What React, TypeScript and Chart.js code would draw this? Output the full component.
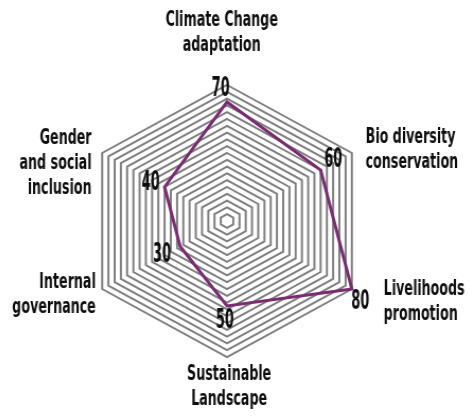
import React, { useEffect, useRef } from "react";
import { Chart, registerables } from "chart.js";

Chart.register(...registerables);

// ---- data ----
const categories: string[][] = [
  ["Climate Change", "adaptation"],
  ["Bio diversity", "conservation"],
  ["Livelihoods", "promotion"],
  ["Sustainable", "Landscape"],
  ["Internal", "governance"],
  ["Gender", "and social", "inclusion"],
];
const values: number[] = [70, 60, 80, 50, 30, 40];
const scaleMin = 0;
const scaleMax = 80;
const scaleStep = 4;

// ---- style / placement config ----
const FONT_FAMILY = '"Liberation Sans Narrow", "DejaVu Sans Condensed", "Liberation Sans", sans-serif';
const LINE_COLOR = "#7a2c73";
const GRID_COLOR = "#808080";
const TEXT_COLOR = "#0d0d0d";
// category label placement relative to the outer vertex
const catPlace = [
  { dx: -5, dy: -52, align: "center" },
  { dx: 13, dy: -3, align: "left" },
  { dx: 30, dy: 13, align: "left" },
  { dx: 2, dy: 30, align: "center" },
  { dx: -6, dy: 6, align: "right" },
  { dx: -10, dy: 10, align: "right" },
];
// value label placement relative to the data point
const valPlace = [
  { dx: -6, dy: -13 },
  { dx: 12, dy: -10 },
  { dx: 8, dy: 13 },
  { dx: -2, dy: 15 },
  { dx: -17, dy: 9 },
  { dx: -13, dy: -4 },
];

function drawSqueezed(ctx: CanvasRenderingContext2D, text: string, x: number, y: number, align: CanvasTextAlign, sx: number) {
  ctx.save();
  ctx.translate(x, y);
  ctx.scale(sx, 1);
  ctx.textAlign = align;
  ctx.textBaseline = "middle";
  ctx.fillText(text, 0, 0);
  ctx.restore();
}

const labelPlugin = {
  id: "labelPlugin",
  afterDatasetsDraw(chart: any) {
    const ctx: CanvasRenderingContext2D = chart.ctx;
    const scale = chart.scales.r;
    ctx.save();
    ctx.fillStyle = TEXT_COLOR;

    // category labels
    ctx.font = `bold 22px ${FONT_FAMILY}`;
    const sxCat = 106 / ctx.measureText("Climate Change").width;
    const lineH = 25;
    categories.forEach((lines, i) => {
      const v = scale.getPointPosition(i, scale.drawingArea);
      const p = catPlace[i];
      const cx = v.x + p.dx;
      const cy = v.y + p.dy;
      lines.forEach((ln, k) => {
        const y = cy + (k - (lines.length - 1) / 2) * lineH;
        drawSqueezed(ctx, ln, cx, y, p.align as CanvasTextAlign, sxCat);
      });
    });

    // value labels
    ctx.font = `bold 26px ${FONT_FAMILY}`;
    const sxVal = 17 / ctx.measureText("50").width;
    const meta = chart.getDatasetMeta(0);
    meta.data.forEach((pt: any, i: number) => {
      const p = valPlace[i];
      drawSqueezed(ctx, String(values[i]), pt.x + p.dx, pt.y + p.dy, "center", sxVal);
    });
    ctx.restore();
  },
};

export default function App() {
  const ref = useRef<HTMLCanvasElement | null>(null);

  useEffect(() => {
    if (!ref.current) return;
    const chart = new Chart(ref.current, {
      type: "radar",
      data: {
        labels: categories,
        datasets: [
          {
            data: values,
            borderColor: LINE_COLOR,
            borderWidth: 3,
            backgroundColor: "transparent",
            fill: false,
            pointRadius: 0,
            pointHoverRadius: 0,
            tension: 0,
          },
        ],
      },
      options: {
        animation: false,
        responsive: false,
        devicePixelRatio: 1,
        layout: { padding: { left: 0, right: 14, top: 85, bottom: 59 } },
        plugins: {
          legend: { display: false },
          tooltip: { enabled: false },
        },
        scales: {
          r: {
            min: scaleMin,
            max: scaleMax,
            beginAtZero: true,
            ticks: { display: false, stepSize: scaleStep },
            grid: { color: GRID_COLOR, lineWidth: 2, circular: false },
            angleLines: { display: false },
            pointLabels: { display: false },
          },
        },
      },
      plugins: [labelPlugin],
    });
    return () => chart.destroy();
  }, []);

  return (
    <div style={{ position: "fixed", left: 0, top: 0, width: 469, height: 417, overflow: "hidden", background: "#fff" }}>
      <canvas
        ref={ref}
        width={469}
        height={417}
        style={{ display: "block", transform: "scaleX(1.06)", transformOrigin: "227px 221px" }}
      />
    </div>
  );
}
